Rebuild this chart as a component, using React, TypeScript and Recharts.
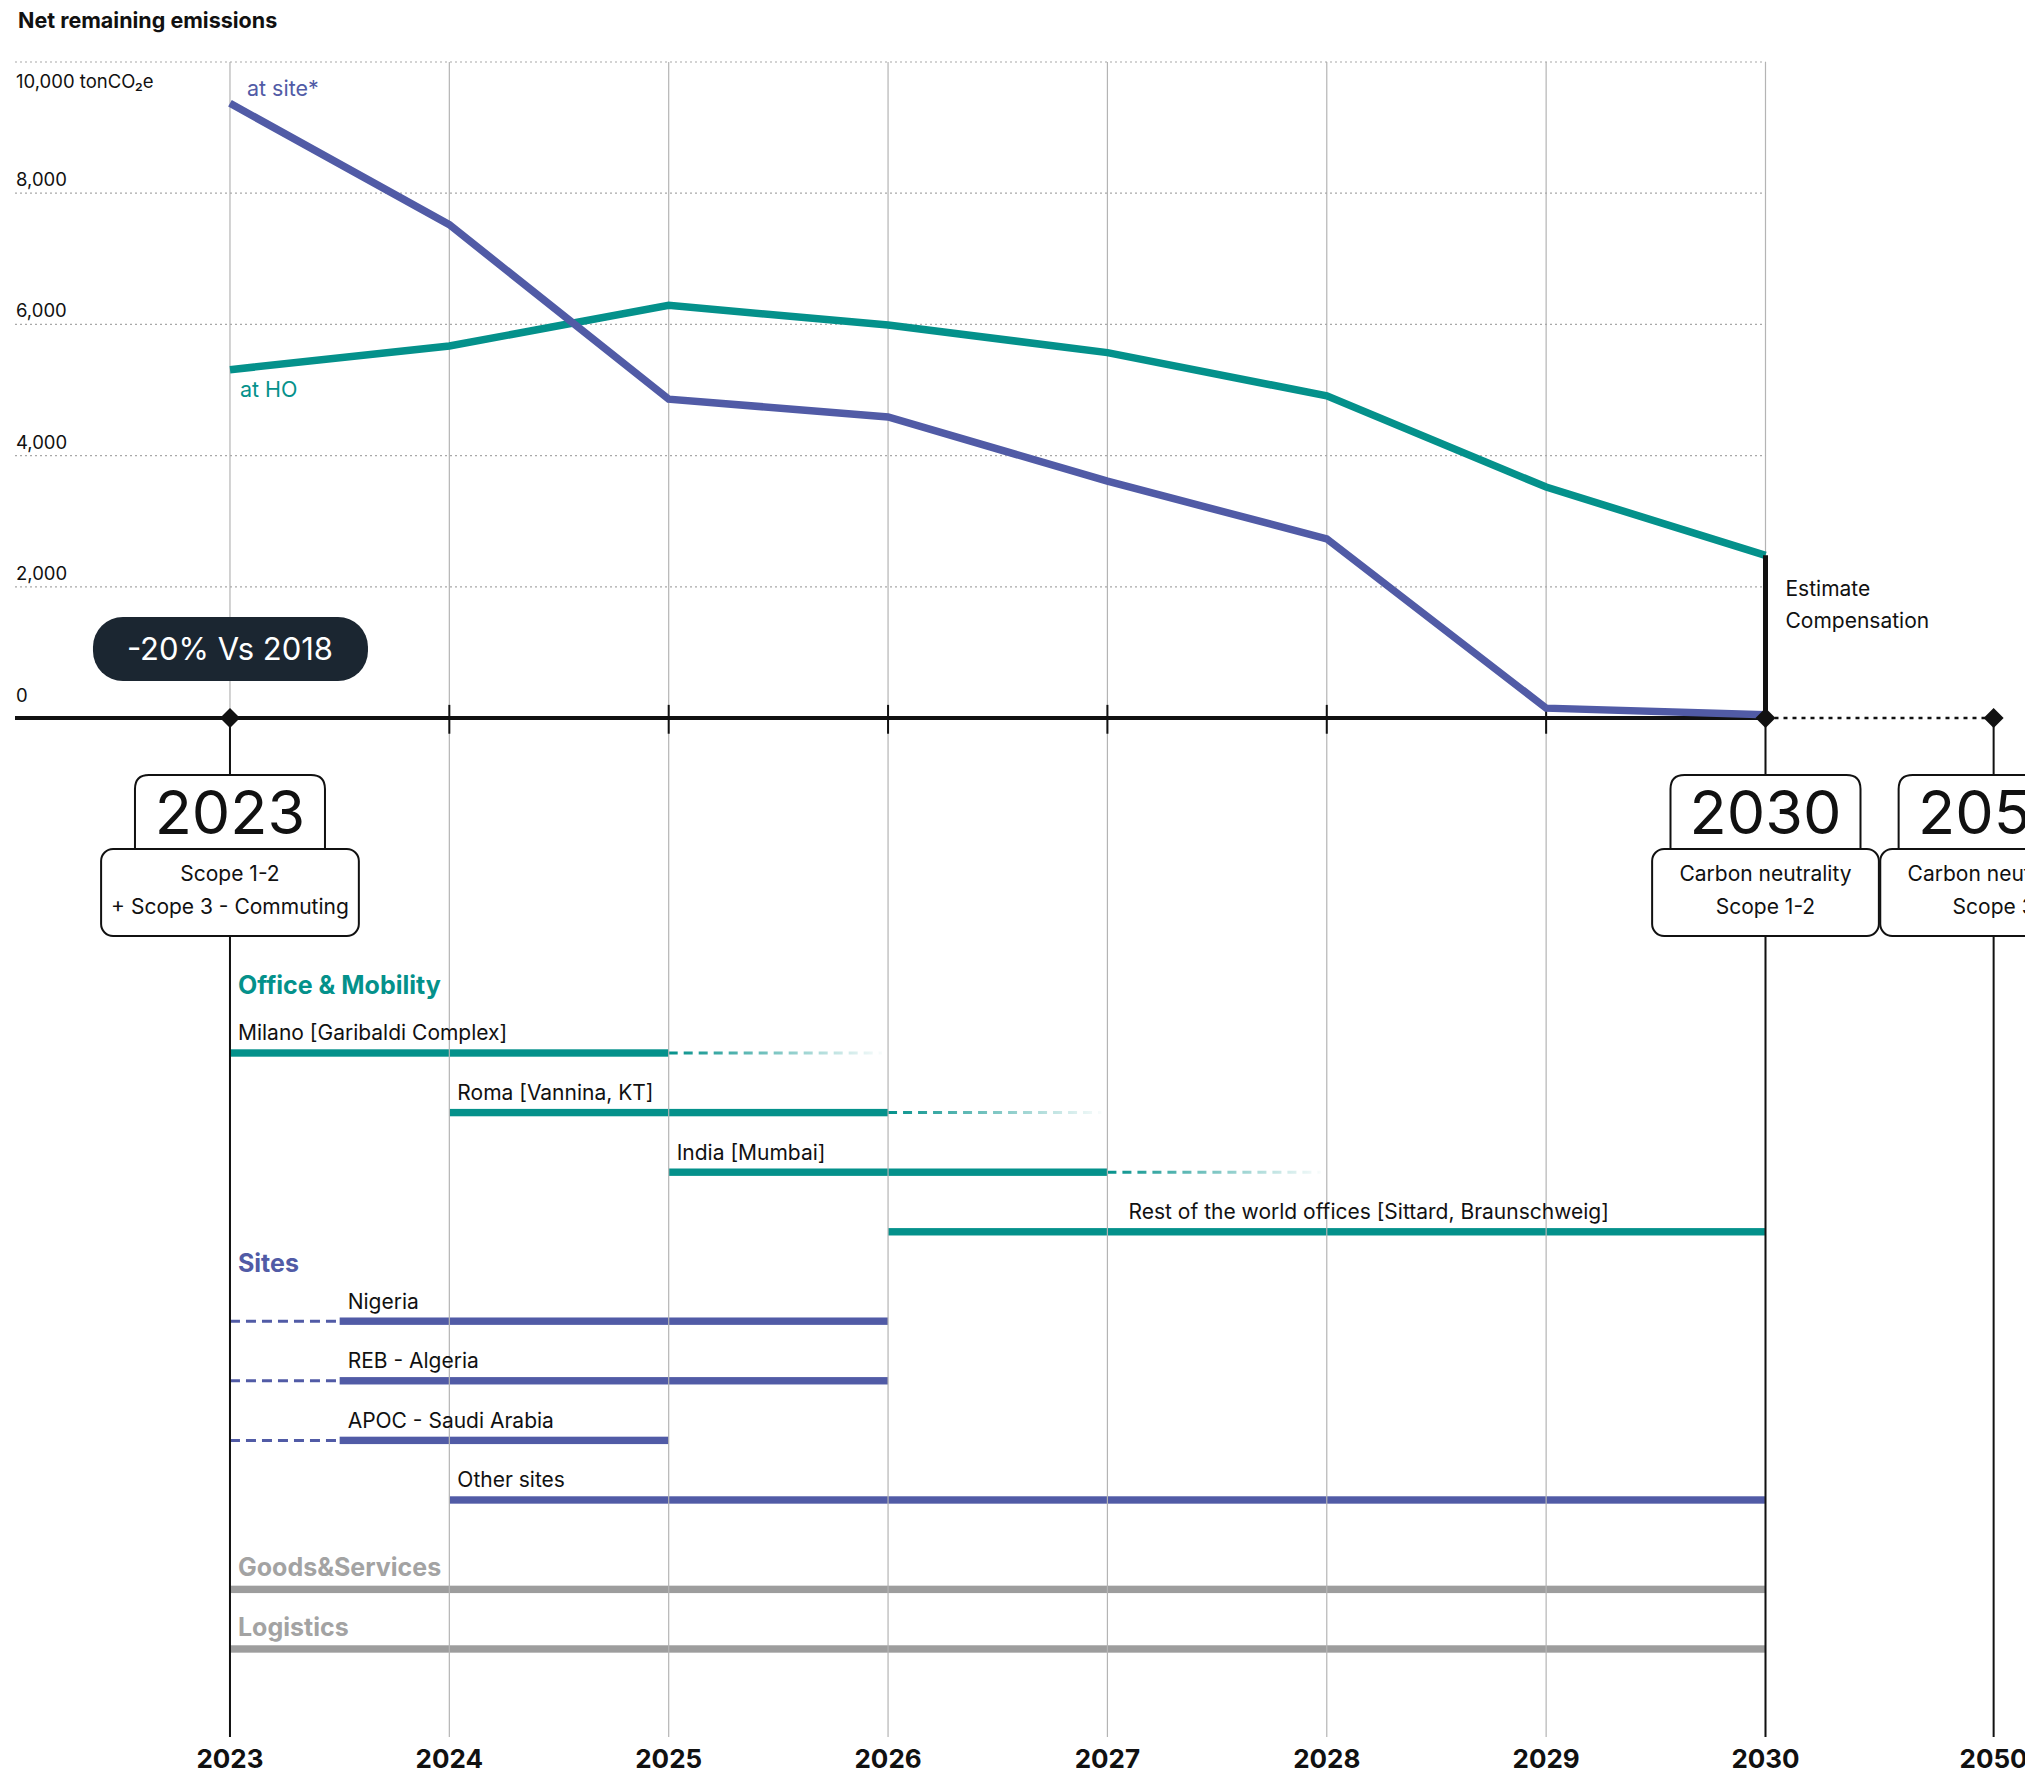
import React from 'react';
import {
  ComposedChart,
  Line,
  XAxis,
  YAxis,
  ReferenceLine,
  ReferenceArea,
  ReferenceDot,
  LabelList,
} from 'recharts';

const years = [2023, 2024, 2025, 2026, 2027, 2028, 2029, 2030];
const atSite = [9370, 7520, 4860, 4590, 3610, 2730, 150, 50];
const atHO = [5310, 5670, 6290, 5990, 5570, 4910, 3520, 2480];
const emissionTicks = [0, 2000, 4000, 6000, 8000, 10000];
const yearTicks = [2023, 2024, 2025, 2026, 2027, 2028, 2029, 2030, 2050];

const milestones = [
  { year: 2023, title: '2023', lines: ['Scope 1-2', '+ Scope 3 - Commuting'] },
  { year: 2030, title: '2030', lines: ['Carbon neutrality', 'Scope 1-2'] },
  { year: 2050, title: '2050', lines: ['Carbon neutrality', 'Scope 3'] },
];
const badgeText = '-20% Vs 2018';
const compensationNote = ['Estimate', 'Compensation'];

// gantt rows: segments [from, to, style]
const officeRows = [
  { name: 'Milano [Garibaldi Complex]', segs: [[2023, 2025, 'solid'], [2025, 2026, 'fade']] },
  { name: 'Roma [Vannina, KT]', segs: [[2024, 2026, 'solid'], [2026, 2027, 'fade']] },
  { name: 'India [Mumbai]', segs: [[2025, 2027, 'solid'], [2027, 2028, 'fade']] },
  { name: 'Rest of the world offices [Sittard, Braunschweig]', segs: [[2026, 2030, 'solid']], labelAt: 2027.06 },
];
const siteRows = [
  { name: 'Nigeria', segs: [[2023, 2023.5, 'dash'], [2023.5, 2026, 'solid']] },
  { name: 'REB - Algeria', segs: [[2023, 2023.5, 'dash'], [2023.5, 2026, 'solid']] },
  { name: 'APOC - Saudi Arabia', segs: [[2023, 2023.5, 'dash'], [2023.5, 2025, 'solid']] },
  { name: 'Other sites', segs: [[2024, 2030, 'solid']] },
];
const otherRows = [
  { name: 'Goods&Services', segs: [[2023, 2030, 'solid']] },
  { name: 'Logistics', segs: [[2023, 2030, 'solid']] },
];

const TEAL = '#04918B';
const PURPLE = '#515BA6';
const GRAY = '#9D9D9D';
const INK = '#111111';
const FONT = 'Inter, "Liberation Sans", sans-serif';

const groups = [
  { header: 'Office & Mobility', color: TEAL, rows: officeRows, bigLabels: false },
  { header: 'Sites', color: PURPLE, rows: siteRows, bigLabels: false },
  { header: null, color: GRAY, rows: otherRows, bigLabels: true },
];

// axis layout
const X_MIN = 2022.02;
const X_MAX = 2031.183;
const X_2050 = 2031.04;
const EM_MIN = -15534;
const EM_MAX = 10000;
const ROW_MIN = -16.628;
const ROW_MAX = 11.477;
const BAR_HALF = 0.062;
const xPos = (y: number) => (y > 2030 ? X_2050 : y);

const chartData = years.map((y, i) => ({ year: y, atSite: atSite[i], atHO: atHO[i] }));

// flatten gantt rows with slot index (half-slot gap between groups)
const ganttRows: any[] = [];
const groupHeads: any[] = [];
let idx = 0;
groups.forEach((g, gi) => {
  g.rows.forEach((r, ri) => {
    const slot = idx + gi * 0.5;
    if (ri === 0 && g.header) groupHeads.push({ header: g.header, color: g.color, x: r.segs[0][0], slot, first: gi === 0 });
    ganttRows.push({ ...r, slot, color: g.color, big: g.bigLabels });
    idx += 1;
  });
});

function YearTick({ x, y, payload }: any) {
  const label = payload.value > 2030 ? '2050' : String(payload.value);
  return (
    <text x={x} y={y + 21} textAnchor="middle" dominantBaseline="central" fontSize={26} fontWeight={700} fill={INK} fontFamily={FONT}>
      {label}
    </text>
  );
}

const emLabelShape = (v: number) => (p: any) => {
  const text = v === 10000 ? '10,000 tonCO₂e' : v.toLocaleString('en-US');
  const dy = v === 10000 ? 19 : v === 0 ? -23 : -14;
  return (
    <text x={p.cx + 1} y={p.cy + dy} dominantBaseline="central" fontSize={18.5} fill={INK} fontFamily={FONT}>
      {text}
    </text>
  );
};

const segShape = (style: string, color: string, id: string) => (p: any) => {
  const { x, y, width, height } = p;
  const cy = y + height / 2;
  if (style === 'solid') return <rect x={x} y={y} width={width} height={height} fill={color} />;
  if (style === 'dash')
    return <line x1={x} x2={x + width} y1={cy} y2={cy} stroke={color} strokeWidth={3} strokeDasharray="10 6" />;
  return (
    <g>
      <defs>
        <linearGradient id={id} gradientUnits="userSpaceOnUse" x1={x} y1={cy} x2={x + width} y2={cy}>
          <stop offset="0" stopColor={color} stopOpacity={1} />
          <stop offset="1" stopColor={color} stopOpacity={0} />
        </linearGradient>
      </defs>
      <line x1={x} x2={x + width - 6} y1={cy} y2={cy} stroke={`url(#${id})`} strokeWidth={3} strokeDasharray="9 6" />
    </g>
  );
};

const rowLabelShape = (row: any) => (p: any) => (
  <text
    x={p.cx + 8}
    y={p.cy - (row.big ? 22 : 20)}
    dominantBaseline="central"
    fontSize={row.big ? 25 : 21}
    fontWeight={row.big ? 700 : 400}
    fill={row.big ? '#A3A3A3' : INK}
    fontFamily={FONT}
  >
    {row.name}
  </text>
);

const headShape = (h: any) => (p: any) => (
  <text
    x={p.cx + 8}
    y={p.cy - (h.first ? 68 : 58)}
    dominantBaseline="central"
    fontSize={25}
    fontWeight={700}
    fill={h.color}
    fontFamily={FONT}
  >
    {h.header}
  </text>
);

const milestoneShape = (m: any) => (p: any) => {
  const { cx, cy } = p;
  const topW = 190;
  const lowW = Math.max(...m.lines.map((l: string) => l.length)) * 7.75 + 95;
  const t0 = cy + 57;
  const t1 = cy + 131;
  const t2 = cy + 218;
  const r = 14;
  const tl = cx - topW / 2;
  const tr = cx + topW / 2;
  return (
    <g fontFamily={FONT}>
      {m.year === 2023 && (
        <g>
          <rect x={cx - 137} y={cy - 101} width={275} height={64} rx={30} fill="#1B2631" />
          <text x={cx} y={cy - 69} textAnchor="middle" dominantBaseline="central" fontSize={31} fill="#fff">
            {badgeText}
          </text>
        </g>
      )}
      {m.year === 2030 &&
        compensationNote.map((t, i) => (
          <text key={t} x={cx + 20} y={cy - 129 + i * 32} dominantBaseline="central" fontSize={21} fill={INK}>
            {t}
          </text>
        ))}
      <path
        d={`M${tl},${t1} L${tl},${t0 + r} Q${tl},${t0} ${tl + r},${t0} L${tr - r},${t0} Q${tr},${t0} ${tr},${t0 + r} L${tr},${t1}`}
        fill="#fff"
        stroke={INK}
        strokeWidth={2}
      />
      <text x={cx} y={t0 + 37} textAnchor="middle" dominantBaseline="central" fontSize={61} fill={INK}>
        {m.title}
      </text>
      <rect x={cx - lowW / 2} y={t1} width={lowW} height={t2 - t1} rx={12} fill="#fff" stroke={INK} strokeWidth={2} />
      {m.lines.map((l: string, i: number) => (
        <text key={l} x={cx} y={cy + 156 + i * 33} textAnchor="middle" dominantBaseline="central" fontSize={21} fill={INK}>
          {l}
        </text>
      ))}
      <path d={`M${cx},${cy - 10} L${cx + 10},${cy} L${cx},${cy + 10} L${cx - 10},${cy} Z`} fill={INK} />
    </g>
  );
};

const lineLabel = (text: string, color: string, dx: number, dy: number) => (p: any) => {
  if (p.index !== 0) return null;
  return (
    <text x={p.x + dx} y={p.y + dy} dominantBaseline="central" fontSize={21.5} fill={color} fontFamily={FONT}>
      {text}
    </text>
  );
};

export default function App() {
  return (
    <div
      style={{
        position: 'absolute',
        left: 0,
        top: 0,
        width: 2025,
        height: 1773,
        overflow: 'hidden',
        background: '#fff',
        fontFamily: FONT,
      }}
    >
      <div style={{ position: 'absolute', left: 18, top: 7, fontSize: 21.5, fontWeight: 700, color: INK }}>
        Net remaining emissions
      </div>
      <ComposedChart width={2025} height={1773} data={chartData} margin={{ top: 62, right: 0, bottom: 0, left: 15 }}>
        <XAxis
          dataKey="year"
          type="number"
          domain={[X_MIN, X_MAX]}
          allowDataOverflow
          ticks={yearTicks.map(xPos)}
          tick={<YearTick />}
          axisLine={false}
          tickLine={false}
          tickSize={0}
          tickMargin={0}
          height={36}
          interval={0}
        />
        <YAxis yAxisId="em" type="number" domain={[EM_MIN, EM_MAX]} allowDataOverflow hide />
        <YAxis yAxisId="rows" type="number" domain={[ROW_MIN, ROW_MAX]} allowDataOverflow reversed hide />

        {years.map((y) => (
          <ReferenceLine key={`v${y}`} yAxisId="em" x={y} stroke="#B4B4B4" strokeWidth={1.2} ifOverflow="visible" />
        ))}
        {emissionTicks
          .filter((v) => v > 0)
          .map((v) => (
            <ReferenceLine
              key={`h${v}`}
              yAxisId="em"
              segment={[{ x: X_MIN, y: v }, { x: 2030, y: v }]}
              stroke="#A8A8A8"
              strokeWidth={1.2}
              strokeDasharray="2 3"
              ifOverflow="visible"
            />
          ))}
        {emissionTicks.map((v) => (
          <ReferenceDot key={`yl${v}`} yAxisId="em" x={X_MIN} y={v} ifOverflow="visible" shape={emLabelShape(v)} />
        ))}
        {milestones.map((m) => (
          <ReferenceLine
            key={`s${m.year}`}
            yAxisId="em"
            segment={[{ x: xPos(m.year), y: 0 }, { x: xPos(m.year), y: EM_MIN }]}
            stroke={INK}
            strokeWidth={2}
            ifOverflow="visible"
          />
        ))}

        {ganttRows.flatMap((row, ri) =>
          row.segs.map((s: any, si: number) => (
            <ReferenceArea
              key={`g${ri}-${si}`}
              yAxisId="rows"
              x1={s[0]}
              x2={s[1]}
              y1={row.slot - BAR_HALF}
              y2={row.slot + BAR_HALF}
              ifOverflow="visible"
              shape={segShape(s[2], row.color, `fade${ri}`)}
            />
          ))
        )}
        {ganttRows.map((row, ri) => (
          <ReferenceDot
            key={`l${ri}`}
            yAxisId="rows"
            x={row.labelAt ?? row.segs.find((s: any) => s[2] === 'solid')[0]}
            y={row.slot}
            ifOverflow="visible"
            shape={rowLabelShape(row)}
          />
        ))}
        {groupHeads.map((h) => (
          <ReferenceDot key={h.header} yAxisId="rows" x={h.x} y={h.slot} ifOverflow="visible" shape={headShape(h)} />
        ))}

        <ReferenceLine
          yAxisId="em"
          segment={[{ x: X_MIN, y: 0 }, { x: 2030, y: 0 }]}
          stroke={INK}
          strokeWidth={4}
          ifOverflow="visible"
        />
        <ReferenceLine
          yAxisId="em"
          segment={[{ x: 2030, y: 0 }, { x: X_2050, y: 0 }]}
          stroke={INK}
          strokeWidth={2.5}
          strokeDasharray="4 5"
          ifOverflow="visible"
        />
        {years.slice(1, -1).map((y) => (
          <ReferenceLine
            key={`t${y}`}
            yAxisId="em"
            segment={[{ x: y, y: 200 }, { x: y, y: -240 }]}
            stroke={INK}
            strokeWidth={2}
            ifOverflow="visible"
          />
        ))}

        <Line
          yAxisId="em"
          dataKey="atHO"
          stroke={TEAL}
          strokeWidth={7.5}
          dot={false}
          activeDot={false}
          isAnimationActive={false}
        >
          <LabelList dataKey="atHO" content={lineLabel('at HO', TEAL, 10, 19)} />
        </Line>
        <Line
          yAxisId="em"
          dataKey="atSite"
          stroke={PURPLE}
          strokeWidth={7.5}
          dot={false}
          activeDot={false}
          isAnimationActive={false}
        >
          <LabelList dataKey="atSite" content={lineLabel('at site*', PURPLE, 17, -15)} />
        </Line>

        <ReferenceLine
          yAxisId="em"
          segment={[{ x: 2030, y: atHO[atHO.length - 1] }, { x: 2030, y: 0 }]}
          stroke={INK}
          strokeWidth={5}
          ifOverflow="visible"
        />
        {milestones.map((m) => (
          <ReferenceDot
            key={`m${m.year}`}
            yAxisId="em"
            x={xPos(m.year)}
            y={0}
            ifOverflow="visible"
            shape={milestoneShape(m)}
          />
        ))}
      </ComposedChart>
    </div>
  );
}
